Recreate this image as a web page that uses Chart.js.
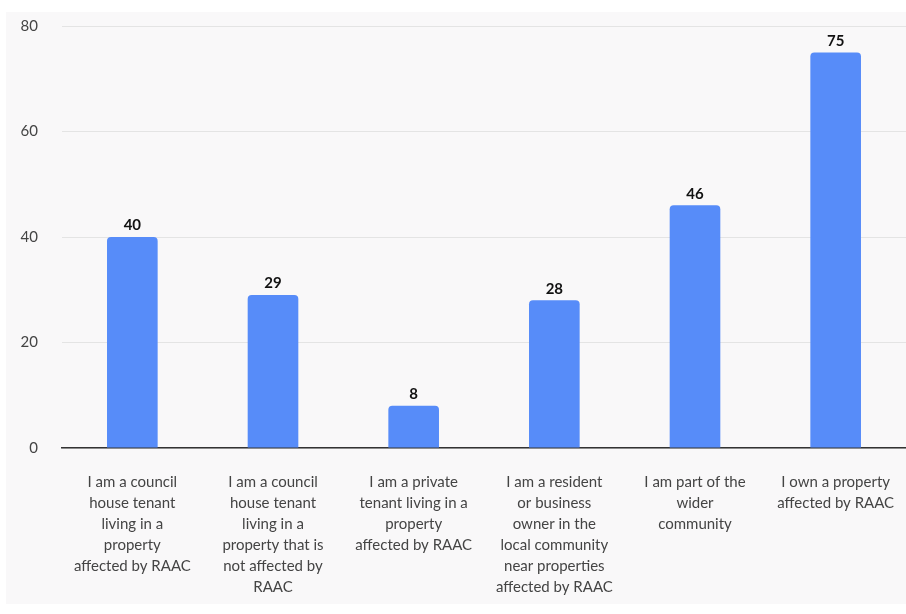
<!DOCTYPE html>
<html>
<head>
<meta charset="utf-8">
<script src="https://cdn.jsdelivr.net/npm/chart.js"></script>
<style>
  html, body { margin: 0; padding: 0; background: #fff; }
  #wrap {
    position: absolute;
    left: 6px;
    top: 12px;
    width: 900px;
    height: 592px;
    background: #f9f8f9;
  }
</style>
</head>
<body>
<div id="wrap"><canvas id="chart" width="900" height="592"></canvas></div>
<script>
const categories = [
  ['I am a council', 'house tenant', 'living in a', 'property', 'affected by RAAC'],
  ['I am a council', 'house tenant', 'living in a', 'property that is', 'not affected by', 'RAAC'],
  ['I am a private', 'tenant living in a', 'property', 'affected by RAAC'],
  ['I am a resident', 'or business', 'owner in the', 'local community', 'near properties', 'affected by RAAC'],
  ['I am part of the', 'wider', 'community'],
  ['I own a property', 'affected by RAAC']
];
const counts = [40, 29, 8, 28, 46, 75];
const yTicks = [0, 20, 40, 60, 80];

const fontFamily = 'Lato, "Noto Sans", sans-serif';

// writes each bar's value just above it
const valueLabels = {
  id: 'valueLabels',
  afterDatasetsDraw(chart) {
    const ctx = chart.ctx;
    const meta = chart.getDatasetMeta(0);
    ctx.save();
    ctx.font = 'bold 15px ' + fontFamily;
    ctx.fillStyle = '#111';
    ctx.textAlign = 'center';
    ctx.textBaseline = 'bottom';
    meta.data.forEach((bar, i) => {
      ctx.fillText(String(counts[i]), bar.x, bar.y - 4);
    });
    ctx.restore();
  }
};

new Chart(document.getElementById('chart'), {
  type: 'bar',
  data: {
    labels: categories,
    datasets: [{
      data: counts,
      backgroundColor: '#578cf9',
      borderRadius: { topLeft: 4, topRight: 4 },
      borderSkipped: 'bottom',
      barPercentage: 0.36,
      categoryPercentage: 1
    }]
  },
  options: {
    responsive: false,
    animation: false,
    layout: { padding: { top: 14, right: 0, left: 0, bottom: 0 } },
    plugins: {
      legend: { display: false },
      tooltip: { enabled: false }
    },
    scales: {
      x: {
        grid: { display: false, drawTicks: false },
        border: { display: true, color: '#333', width: 1.5 },
        ticks: {
          color: '#444',
          font: { family: fontFamily, size: 15, lineHeight: 1.4 },
          padding: 24,
          maxRotation: 0,
          autoSkip: false
        },
        afterFit(scale) {
          scale.height = 156;
          scale.paddingLeft = 0;
          scale.paddingRight = 0;
        }
      },
      y: {
        min: 0,
        max: 80,
        afterBuildTicks(scale) {
          scale.ticks = yTicks.map(v => ({ value: v }));
        },
        grid: { color: '#e4e4e4', drawTicks: false },
        border: { display: false },
        ticks: {
          color: '#444',
          font: { family: fontFamily, size: 15 },
          padding: 24
        },
        afterFit(scale) {
          scale.width = 56;
          scale.paddingTop = 0;
          scale.paddingBottom = 0;
        }
      }
    }
  },
  plugins: [valueLabels]
});
</script>
</body>
</html>
